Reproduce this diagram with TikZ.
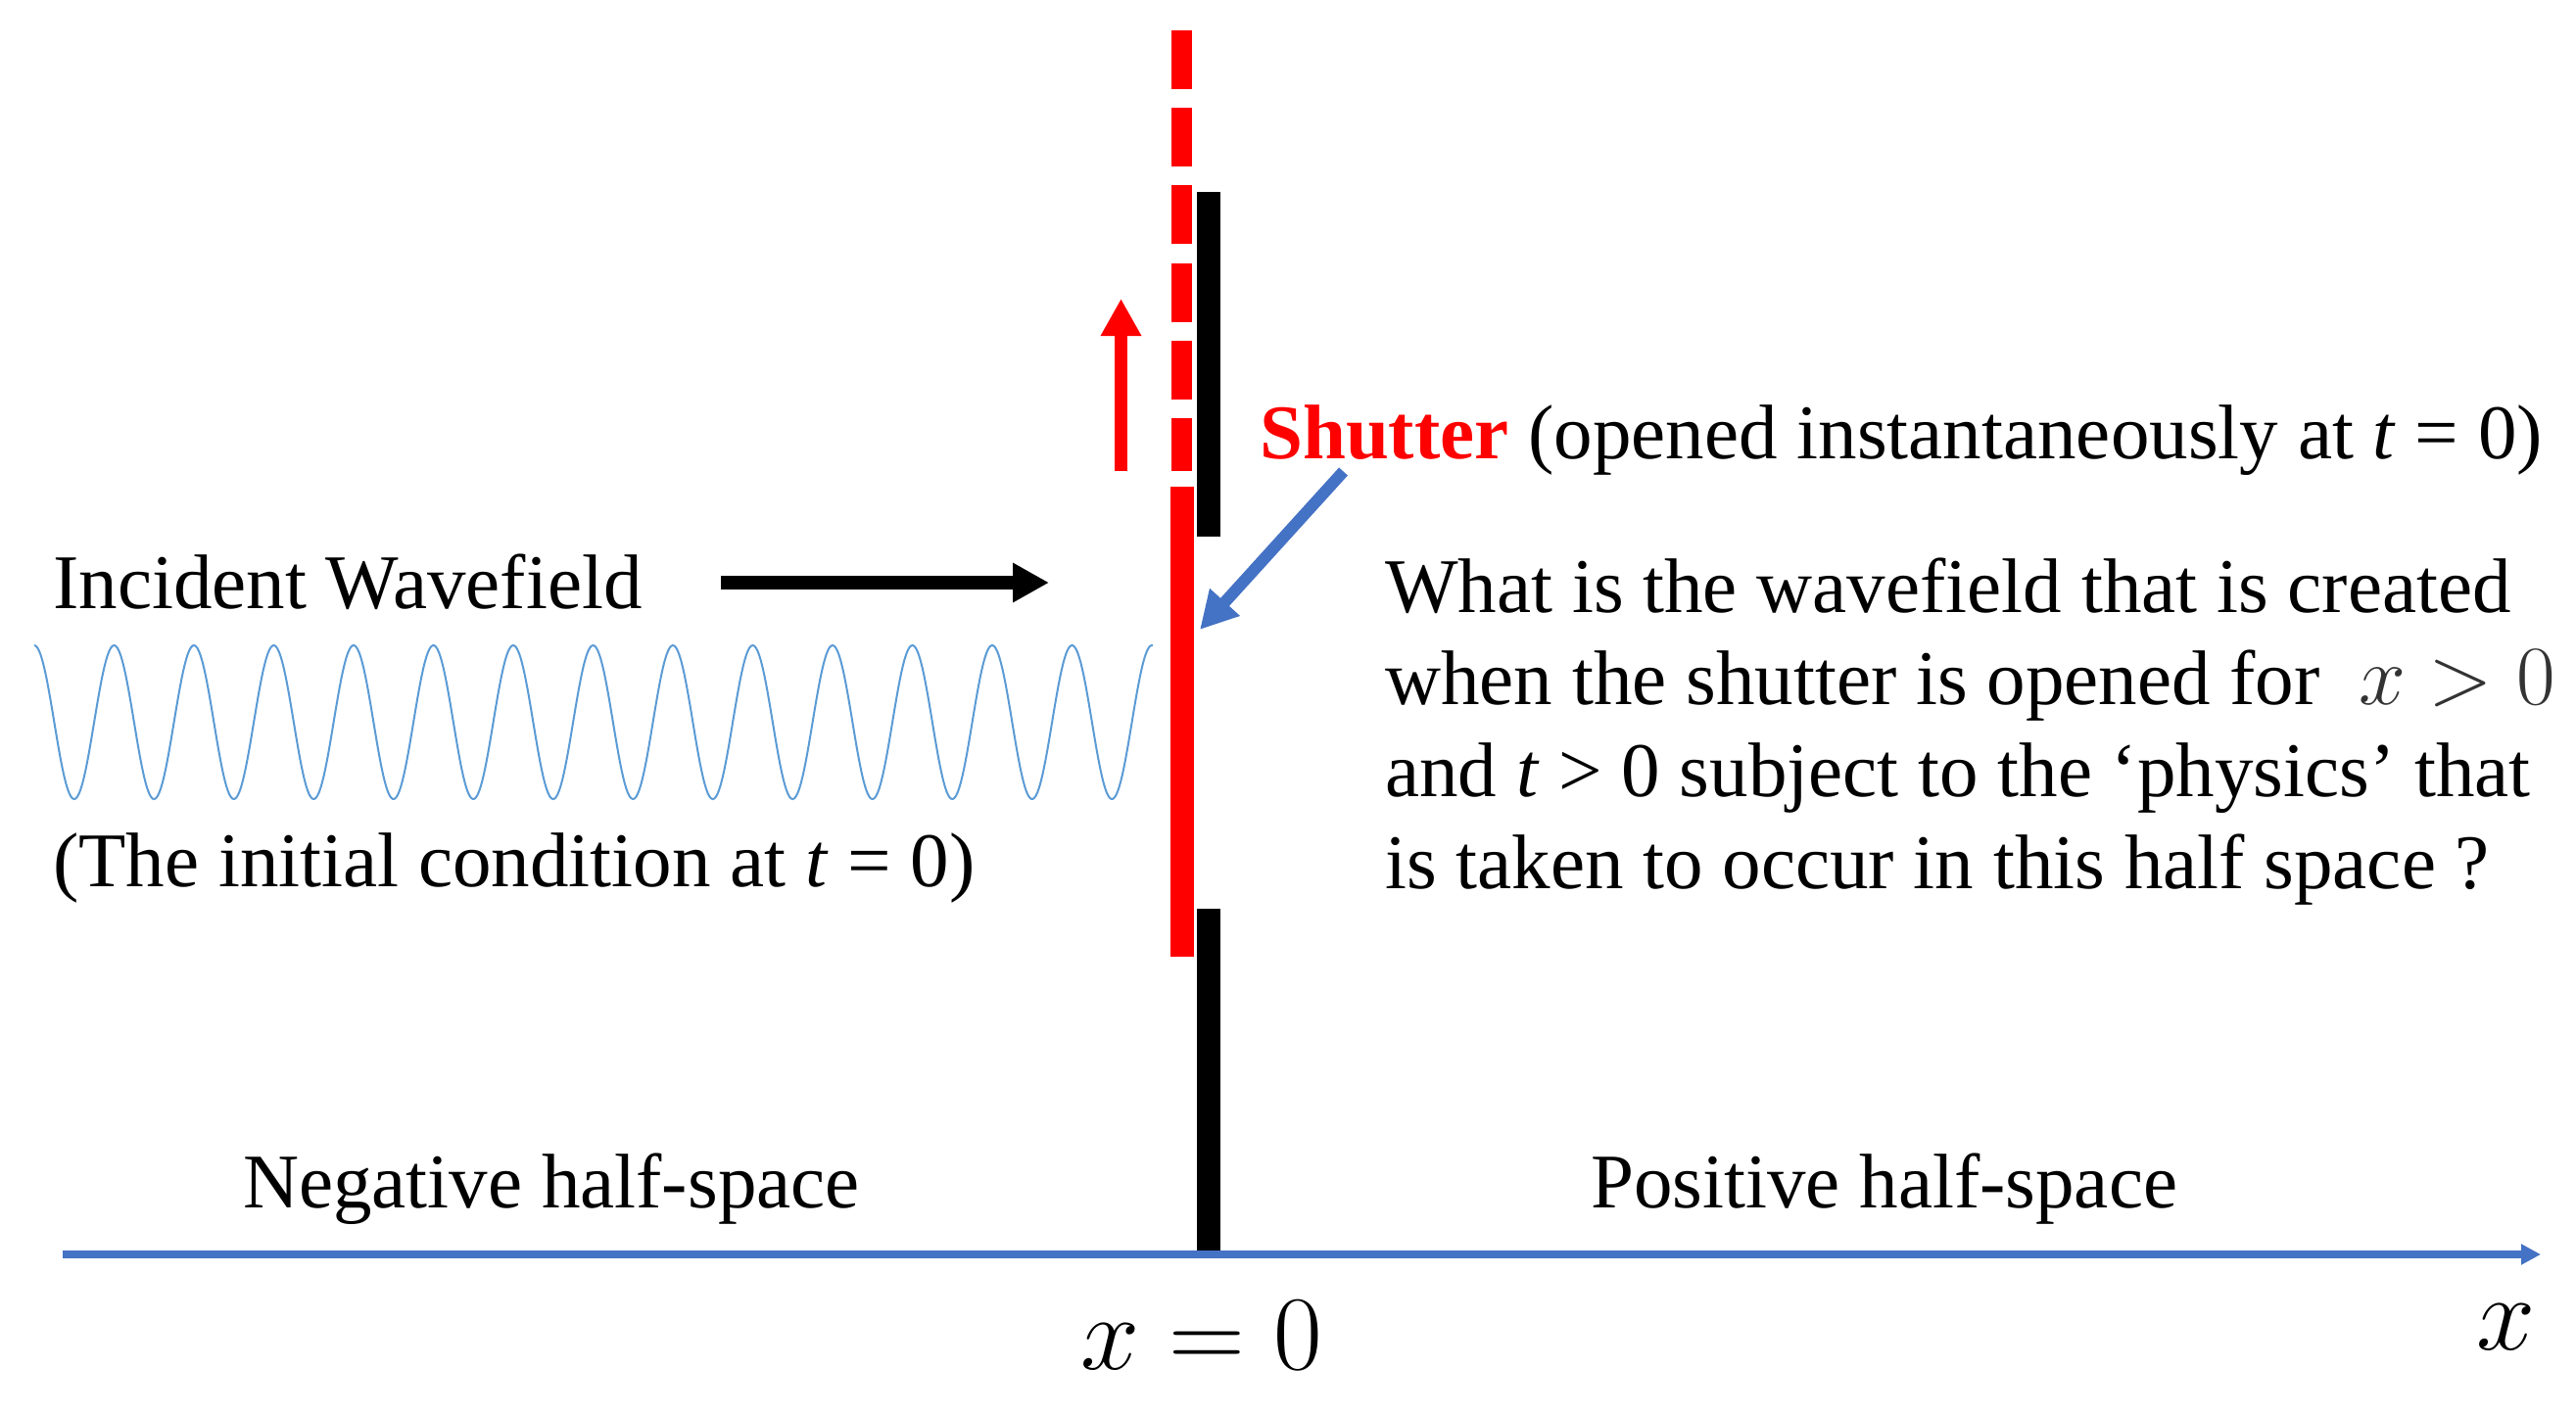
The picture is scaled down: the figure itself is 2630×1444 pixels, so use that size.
\documentclass[tikz,border=0pt]{standalone}
\usepackage{graphicx}
\usepackage[no-math]{fontspec}
\setmainfont{Liberation Serif}
\usetikzlibrary{arrows.meta}
\definecolor{axisblue}{HTML}{4472C4}
\definecolor{waveblue}{HTML}{5B9BD5}
\definecolor{shred}{HTML}{FF0000}
\newcommand{\bigmath}[2]{\scalebox{#1}{\Huge$#2$}}
\begin{document}
\begin{tikzpicture}[x=1pt,y=-1pt,
  lbl/.style={anchor=base west, inner sep=0pt, font=\fontsize{79}{94}\selectfont},
  mathlbl/.style={anchor=base, inner sep=0pt},
  fatarrow/.style={line cap=butt, -{Triangle[length=38pt,width=39pt]}}]
\useasboundingbox (0,0) rectangle (2630,1444);
% axis
\coordinate (axL) at (64,1281);
\coordinate (axR) at (2594,1281);
\draw[axisblue, line width=8pt, -{Triangle[length=20pt,width=20pt]}] (axL) -- (axR);
% screen bars
\fill[black] (1222,196) rectangle (1246,548);
\fill[black] (1222,928) rectangle (1246,1277);
% shutter
\fill[shred] (1195,497) rectangle (1219,977);
\coordinate (dashTop) at (1206.5,31);
\coordinate (dashBot) at (1206.5,481);
\draw[shred, line width=21pt, dash pattern=on 60pt off 19.2pt] (dashTop) -- (dashBot);
% red arrow (shutter moving up)
\coordinate (raB) at (1144.5,481);
\coordinate (raT) at (1144.5,305);
\draw[shred, line width=13pt, fatarrow] (raB) -- (raT);
% incident arrow
\coordinate (iaL) at (736,595);
\coordinate (iaR) at (1071,595);
\draw[black, line width=14pt, line cap=butt, -{Triangle[length=37pt,width=38pt]}] (iaL) -- (iaR);
% pointer to shutter
\coordinate (baS) at (1371.5,481.5);
\coordinate (baE) at (1225,643);
\draw[axisblue, line width=12pt, fatarrow] (baS) -- (baE);
% incident wave
\draw[waveblue, line width=2pt] plot[domain=35:1177, samples=700] (\x,{737.5-78.5*cos((\x-35)/81.5*360)});
% texts
\node[lbl] (inc) at (54,621) {Incident Wavefield};
\node[lbl] (init) at (54,905) {(The initial condition at \textit{t} = 0)};
\node[lbl] (shut) at (1286,468) {\textcolor{shred}{\textbf{Shutter}} (opened instantaneously at \textit{t} = 0)};
\node[lbl] (q1) at (1414,625) {What is the wavefield that is created};
\node[lbl] (q2) at (1414,719) {when the shutter is opened for \ {\color{black!80}\bigmath{3.46}{x>0}}};
\node[lbl] (q3) at (1414,813) {and \textit{t} > 0 subject to the ‘physics’ that};
\node[lbl] (q4) at (1414,907) {is taken to occur in this half space ?};
\node[lbl] (neg) at (248,1233) {Negative half-space};
\node[lbl] (pos) at (1624,1233) {Positive half-space};
\node[mathlbl] (x0) at (1227,1398) {\bigmath{4.34}{x=0}};
\node[mathlbl] (xl) at (2559,1378) {\bigmath{4.34}{x}};
\end{tikzpicture}
\end{document}
